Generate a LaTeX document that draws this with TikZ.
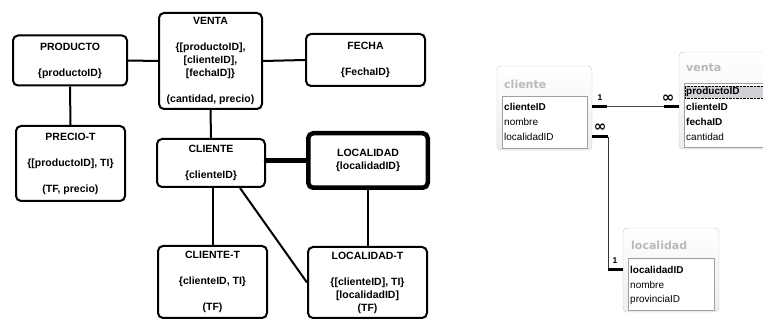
\documentclass[tikz,border=0pt]{standalone}
\usepackage{fontspec}
\setmainfont{Liberation Sans}
\newfontfamily\accfont{DejaVu Sans}
\tikzset{
  entity/.style={rectangle, draw, line width=2pt, rounded corners=5pt, inner sep=0pt,
    align=center, font=\bfseries\fontsize{10.5}{13}\selectfont},
  heavy/.style={line width=4.5pt},
  link/.style={line width=2pt},
  tblwin/.style={rectangle, draw=gray!45, rounded corners=4pt, top color=white,
    bottom color=gray!14, inner sep=0pt},
  tbllist/.style={rectangle, draw=gray!75, fill=white, inner sep=0pt},
  tbltitle/.style={anchor=west, inner sep=0pt, text=gray!55,
    font=\accfont\bfseries\fontsize{11}{12}\selectfont},
  fld/.style={anchor=west, inner sep=0pt, font=\fontsize{10}{12}\selectfont},
  keyfld/.style={fld, font=\bfseries\fontsize{10}{12}\selectfont},
  selrow/.style={fill=blue!6!gray!35, draw, densely dotted, thin, inner xsep=1pt,
    text width=86pt, minimum height=12pt},
  stub/.style={line width=3pt},
  rel/.style={gray!60!black, line width=1pt},
  card/.style={inner sep=0pt, font=\bfseries\fontsize{8.5}{8.5}\selectfont},
  many/.style={inner sep=0pt, font=\accfont\bfseries\fontsize{15}{15}\selectfont},
}
\begin{document}
\begin{tikzpicture}[x=1pt, y=-1pt]
  \clip (0,0) rectangle (763,320);

  % --- STAR SCHEMA (left) ---
  \node[entity, minimum width=114pt, minimum height=50pt] (producto) at (70,60.5)
    {PRODUCTO\\[13pt]\{productoID\}};
  \node[entity, minimum width=103pt, minimum height=96pt] (venta) at (210.5,61)
    {VENTA\\[13pt]\{[productoID],\\{}[clienteID],\\{}[fechaID]\}\\[13pt](cantidad, precio)};
  \node[entity, minimum width=119pt, minimum height=52pt] (fecha) at (365.5,60)
    {FECHA\\[13pt]\{FechaID\}};
  \node[entity, minimum width=109pt, minimum height=75pt] (preciot) at (70.5,163.5)
    {PRECIO-T\\[13pt]\{[productoID], TI\}\\[13pt](TF, precio)};
  \node[entity, minimum width=108pt, minimum height=48pt] (cliente) at (211,163)
    {CLIENTE\\[13pt]\{clienteID\}};
  \node[entity, heavy, minimum width=119.5pt, minimum height=54.5pt] (localidad) at (368,160.5)
    {LOCALIDAD\\\{localidadID\}};
  \node[entity, minimum width=109pt, minimum height=72pt] (clientet) at (212.5,282)
    {CLIENTE-T\\[13pt]\{clienteID, TI\}\\[13pt](TF)};
  \node[entity, minimum width=119pt, minimum height=71pt] (localidadt) at (367.5,282.5)
    {LOCALIDAD-T\\[13pt]\{[clienteID], TI\}\\{}[localidadID]\\(TF)};

  \draw[link] (producto.east) -- (venta.west);
  \draw[link] (venta.east) -- (fecha.west);
  \draw[link] (producto.south) -- (preciot.north);
  \draw[link] (venta.south) -- (cliente.north);
  \draw[link] (cliente.south -| clientet.north) -- (clientet.north);
  \draw[link] ([xshift=29pt]cliente.south) -- (localidadt.west);
  \draw[link] (localidad.south) -- (localidad.south |- localidadt.north);
  \draw[heavy, line cap=round] (cliente.east |- localidad.west) -- (localidad.west);

  % --- RELATIONSHIP WINDOWS (right) ---
  % cliente
  \node[tblwin, minimum width=95pt, minimum height=84pt] (tcliente) at (544.5,108) {};
  \node[tbltitle] at (504,84) {cliente};
  \node[tbllist, minimum width=85pt, minimum height=52pt] (lcliente) at (544.5,122) {};
  \node[keyfld] (ccid) at (504,107) {clienteID};
  \node[fld] (cnom) at (504,122) {nombre};
  \node[fld] (clid) at (504,137) {localidadID};

  % venta
  \node[tblwin, minimum width=96pt, minimum height=97pt] (tventa) at (727,100.5) {};
  \node[tbltitle] at (686,68) {venta};
  \node[tbllist, minimum width=87pt, minimum height=64pt] (lventa) at (727.5,115) {};
  \node[keyfld, selrow] (vpid) at (685,92) {productoID};
  \node[keyfld] (vcid) at (686,107) {clienteID};
  \node[keyfld] (vfid) at (686,122) {fechaID};
  \node[fld] (vcan) at (686,137) {cantidad};

  % localidad
  \node[tblwin, minimum width=96pt, minimum height=84pt] (tlocalidad) at (671,270) {};
  \node[tbltitle] at (631,245) {localidad};
  \node[tbllist, minimum width=86pt, minimum height=52pt] (llocalidad) at (671,284) {};
  \node[keyfld] (llid) at (630,270) {localidadID};
  \node[fld] (lnom) at (630,285) {nombre};
  \node[fld] (lpro) at (630,300) {provinciaID};

  % cliente 1 -- oo venta
  \coordinate (r1a) at ([xshift=15pt]tcliente.east |- ccid);
  \coordinate (r1b) at ([xshift=-15pt]tventa.west |- ccid);
  \draw[rel] (r1a) -- (r1b);
  \draw[stub] (tcliente.east |- ccid) -- (r1a);
  \draw[stub] (r1b) -- (tventa.west |- ccid);
  \node[card] at (600,98) {1};
  \node[many] at (668,99) {∞};

  % cliente oo -- 1 localidad
  \coordinate (r2a) at ([xshift=16pt]tcliente.east |- clid);
  \coordinate (r2b) at (r2a |- llid);
  \draw[rel, black!80] (r2a) -- (r2b);
  \draw[stub] (tcliente.east |- clid) -- (r2a);
  \draw[stub] (r2b) -- (tlocalidad.west |- llid);
  \node[many] at (600,128) {∞};
  \node[card] at (615,261) {1};
\end{tikzpicture}
\end{document}
